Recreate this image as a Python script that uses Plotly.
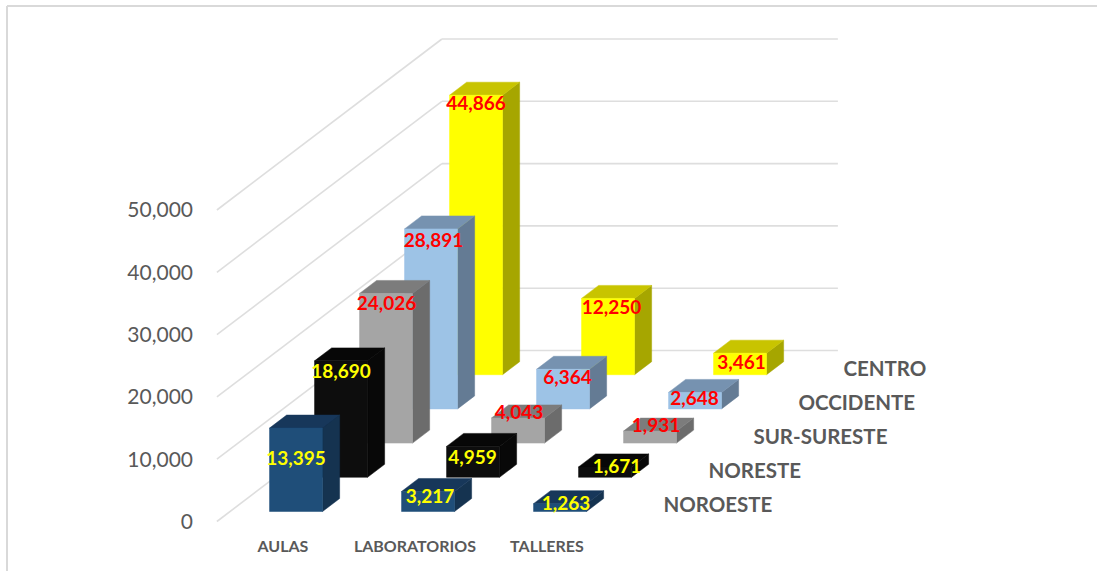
import plotly.graph_objects as go

categories = ["AULAS", "LABORATORIOS", "TALLERES"]
series_names = ["NOROESTE", "NORESTE", "SUR-SURESTE", "OCCIDENTE", "CENTRO"]
noroeste = [13395, 3217, 1263]
noreste = [18690, 4959, 1671]
sur_sureste = [24026, 4043, 1931]
occidente = [28891, 6364, 2648]
centro = [44866, 12250, 3461]
y_ticks = [0, 10000, 20000, 30000, 40000, 50000]

series_values = [noroeste, noreste, sur_sureste, occidente, centro]

# styles: front, side, top, label colour
styles = [
    ("#1F4E79", "#153350", "#17375A", "#FFFF00"),
    ("#0D0D0D", "#080808", "#070707", "#FFFF00"),
    ("#A5A5A5", "#6C6C6C", "#7C7C7C", "#FF0000"),
    ("#9DC3E6", "#647B94", "#7692B0", "#FF0000"),
    ("#FFFF00", "#A6A600", "#C8C400", "#FF0000"),
]
# hand-placed label nudges in pixels (right, down) per series / category
nudges = [
    [(0, 32), (2, 7), (6, 2)],
    [(0, 12.7), (-0.5, 13), (12, 1)],
    [(0.5, 11.5), (1, -4), (6, -4)],
    [(2.5, 13), (4.5, 10), (-0.5, 7.5)],
    [(0, 10), (3.5, 10.6), (1.5, 11)],
]

# oblique projection
W, H = 1097, 571
PX_PER_CAT = 132.0
PX_PER_K = 6.23
UX = 1 / PX_PER_CAT
UY = 1000 / PX_PER_K
STEP_DX = 45 * UX          # one series step back, horizontal
STEP_DY = 34.2 * UY        # one series step back, vertical
BAR_W = 53 * UX
BAR_D = 0.38               # bar depth in series steps
GAP_D = 0.292              # floor gap in front of a bar
N_DEPTH = len(series_names)

L, R, T, B = 200, W, 0, 532
ZERO_X_PX, ZERO_Y_PX = 282.9, 521.5
x_range = [(L - ZERO_X_PX) * UX, (R - ZERO_X_PX) * UX]
y_range = [(ZERO_Y_PX - B) * UY, (ZERO_Y_PX - T) * UY]


def proj(x, val, depth):
    return x + depth * STEP_DX, val + depth * STEP_DY


fig = go.Figure()

# walls / gridlines
gx, gy = [], []
for v in y_ticks:
    for a, b in [((-0.5, 0), (-0.5, N_DEPTH)), ((-0.5, N_DEPTH), (2.5, N_DEPTH))]:
        p = proj(a[0], v, a[1])
        q = proj(b[0], v, b[1])
        gx += [p[0], q[0], None]
        gy += [p[1], q[1], None]
fig.add_trace(go.Scatter(x=gx, y=gy, mode="lines", name="grid", showlegend=False, hoverinfo="skip",
                         line=dict(color="#DEDEDE", width=1.6)))

lab_x = {"#FFFF00": [], "#FF0000": []}
lab_y = {"#FFFF00": [], "#FF0000": []}
lab_t = {"#FFFF00": [], "#FF0000": []}

# bars, back to front
for s in range(N_DEPTH - 1, -1, -1):
    front_c, side_c, top_c, lab_c = styles[s]
    fx, fy, sx, sy, tx, ty = [], [], [], [], [], []
    d0 = s + GAP_D
    d1 = d0 + BAR_D
    for c, v in enumerate(series_values[s]):
        x0, x1 = c - BAR_W / 2, c + BAR_W / 2
        for poly, xs, ys in [
            ([(x0, 0, d0), (x1, 0, d0), (x1, v, d0), (x0, v, d0)], fx, fy),
            ([(x1, 0, d0), (x1, 0, d1), (x1, v, d1), (x1, v, d0)], sx, sy),
            ([(x0, v, d0), (x1, v, d0), (x1, v, d1), (x0, v, d1)], tx, ty),
        ]:
            pts = [proj(*p) for p in poly]
            pts.append(pts[0])
            xs += [p[0] for p in pts] + [None]
            ys += [p[1] for p in pts] + [None]
        cx, cy = proj(c, v, d0)
        nx, ny = nudges[s][c]
        lab_x[lab_c].append(cx + nx * UX)
        lab_y[lab_c].append(cy - ny * UY)
        lab_t[lab_c].append(f"{v:,}")
    for xs, ys, col in [(sx, sy, side_c), (tx, ty, top_c), (fx, fy, front_c)]:
        fig.add_trace(go.Scatter(x=xs, y=ys, mode="lines", fill="toself", fillcolor=col,
                                 line=dict(color=col, width=0.5), name=series_names[s],
                                 showlegend=False, hoverinfo="skip"))

# value labels
for col in lab_x:
    fig.add_trace(go.Scatter(x=lab_x[col], y=lab_y[col], text=lab_t[col], mode="text",
                             textposition="middle center", showlegend=False, hoverinfo="skip",
                             cliponaxis=False,
                             textfont=dict(family="Lato", size=19, color=col, weight="bold")))

# series labels on the depth axis
depth_lab = [proj(2.5 + 28 * UX, -2.8 * UY, s + 0.5) for s in range(N_DEPTH)]
fig.add_trace(go.Scatter(x=[p[0] for p in depth_lab], y=[p[1] for p in depth_lab], text=series_names,
                         mode="text", textposition="middle right", showlegend=False, hoverinfo="skip",
                         cliponaxis=False,
                         textfont=dict(family="Lato", size=20.5, color="#595959", weight="bold")))

frame = dict(type="line", xref="paper", yref="paper", layer="above",
             line=dict(color="#D9D9D9", width=2))
fx0 = (7 - L) / (R - L)
fy0 = 1 - (6 - T) / (B - T)
fy1 = 1 - (H - T) / (B - T)

fig.update_layout(
    width=W, height=H,
    margin=dict(l=L, r=W - R, t=T, b=H - B, autoexpand=False),
    paper_bgcolor="white", plot_bgcolor="white", showlegend=False,
    xaxis=dict(range=x_range, tickmode="array", tickvals=[0, 1, 2], ticktext=categories,
               showgrid=False, zeroline=False, showline=False, ticks="",
               ticklabelstandoff=3,
               tickfont=dict(family="Lato", size=16, color="#595959", weight="bold")),
    yaxis=dict(range=y_range, tickmode="array", tickvals=y_ticks, tickformat=",",
               showgrid=False, zeroline=False, showline=False, ticks="",
               ticklabelstandoff=6,
               tickfont=dict(family="Lato", size=21, color="#595959")),
    shapes=[
        dict(frame, x0=fx0, x1=1, y0=fy0, y1=fy0),
        dict(frame, x0=fx0, x1=fx0, y0=fy0, y1=fy1),
    ],
)

fig.write_html("out.html", config={"displayModeBar": False},
               post_script="document.body.style.margin='0';document.body.style.overflow='hidden';")
